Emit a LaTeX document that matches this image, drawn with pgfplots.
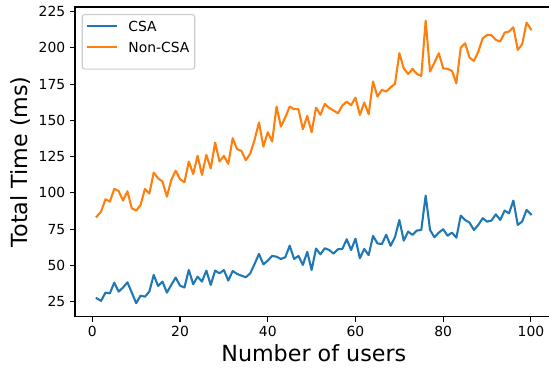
\documentclass[border=0pt]{standalone}
\usepackage{fontspec}
\setmainfont{DejaVu Sans}
\usepackage{pgfplots}
\usepackage{pgfplotstable}
\pgfplotsset{compat=1.18}
\definecolor{mplblue}{HTML}{1F77B4}
\definecolor{mplorange}{HTML}{FF7F0E}
\pgfplotstableread{
x csa non
1 27.3 83.6
2 25.5 87.1
3 31.2 95.6
4 30.7 94.0
5 38.1 102.7
6 31.9 101.3
7 34.7 94.7
8 38.3 101.1
9 31.2 89.4
10 23.9 87.8
11 29.1 91.7
12 28.4 102.7
13 31.9 99.5
14 43.4 114.0
15 35.8 110.0
16 38.8 107.8
17 31.2 97.4
18 36.5 108.9
19 41.6 115.3
20 36.0 109.4
21 34.7 107.3
22 46.8 121.6
23 37.0 113.0
24 42.2 125.6
25 38.8 112.4
26 46.4 126.2
27 36.5 116.8
28 46.4 134.7
29 44.5 121.6
30 46.8 125.5
31 39.5 120.0
32 46.1 137.7
33 44.1 130.2
34 42.9 128.9
35 41.8 122.5
36 44.5 127.0
37 51.0 136.7
38 57.9 148.5
39 50.7 131.9
40 53.3 141.8
41 56.5 135.4
42 56.0 159.5
43 54.4 145.7
44 55.6 152.1
45 63.6 159.5
46 54.4 157.7
47 56.5 157.7
48 50.3 143.9
49 59.3 153.1
50 46.8 141.8
51 61.6 158.8
52 57.6 153.8
53 61.8 161.3
54 60.6 158.6
55 58.1 156.8
56 61.1 154.9
57 61.3 160.2
58 68.0 162.9
59 60.6 160.4
60 68.4 165.7
61 54.9 153.8
62 61.3 162.3
63 57.0 154.2
64 70.3 176.8
65 65.2 166.4
66 64.6 171.0
67 71.1 169.9
68 63.5 172.8
69 69.4 175.1
70 81.3 196.3
71 67.1 185.9
72 73.3 182.0
73 71.0 185.5
74 74.0 182.0
75 74.4 180.7
76 98.1 218.8
77 74.4 183.6
78 69.4 189.9
79 72.6 196.3
80 74.9 185.9
81 70.5 185.5
82 72.6 184.1
83 69.1 175.6
84 84.3 200.2
85 81.3 203.2
86 79.5 193.3
87 74.4 191.0
88 77.9 197.4
89 82.5 206.6
90 80.2 208.9
91 80.9 208.7
92 85.2 205.5
93 81.3 204.3
94 87.8 210.5
95 85.9 211.2
96 94.7 214.2
97 77.9 198.6
98 80.2 202.5
99 88.2 217.4
100 85.2 212.8
}\datatable
\begin{document}
\begin{tikzpicture}
\useasboundingbox (-54bp,-38.38bp) rectangle (341.28bp,228.02bp);
\begin{axis}[
  scale only axis,
  width=343.9bp, height=223bp,
  xmin=-3.95, xmax=104.95,
  ymin=14.6, ymax=228.2,
  xtick={0,20,40,60,80,100},
  ytick={25,50,75,100,125,150,175,200,225},
  axis line style={line width=0.8bp, black},
  tick style={line width=0.8bp, black},
  tick align=outside,
  xtick pos=bottom, ytick pos=left,
  major tick length=3.5bp,
  /pgf/number format/assume math mode=true,
  tick label style={font=\fontsize{10bp}{12bp}\selectfont},
  xlabel={Number of users},
  ylabel={Total Time (ms)},
  label style={font=\fontsize{16bp}{19bp}\selectfont},
  xlabel style={yshift=1bp},
  ylabel style={yshift=-1bp},
  legend cell align=left,
  legend style={at={(axis description cs:0,1)}, anchor=north west,
    xshift=4.8bp, yshift=-5bp, draw=black!20, fill=white, rounded corners=2bp,
    line width=0.8bp,
    font=\fontsize{10bp}{12bp}\selectfont,
    nodes={font=\fontsize{10bp}{12bp}\selectfont, inner sep=0pt, text height=7.3bp, text depth=7bp},
    inner xsep=3.8bp, inner ysep=5bp,
    row sep=0.8bp,
    /tikz/every odd column/.append style={column sep=8bp}},
  legend image code/.code={\draw[#1, line cap=rect] (0bp,3.6bp) -- (20bp,3.6bp);},
]
\addplot[mplblue, line width=1.5bp, line join=round, line cap=rect] table[x=x, y=csa] {\datatable};
\addlegendentry{CSA}
\addplot[mplorange, line width=1.5bp, line join=round, line cap=rect] table[x=x, y=non] {\datatable};
\addlegendentry{Non-CSA}
\end{axis}
\end{tikzpicture}
\end{document}
